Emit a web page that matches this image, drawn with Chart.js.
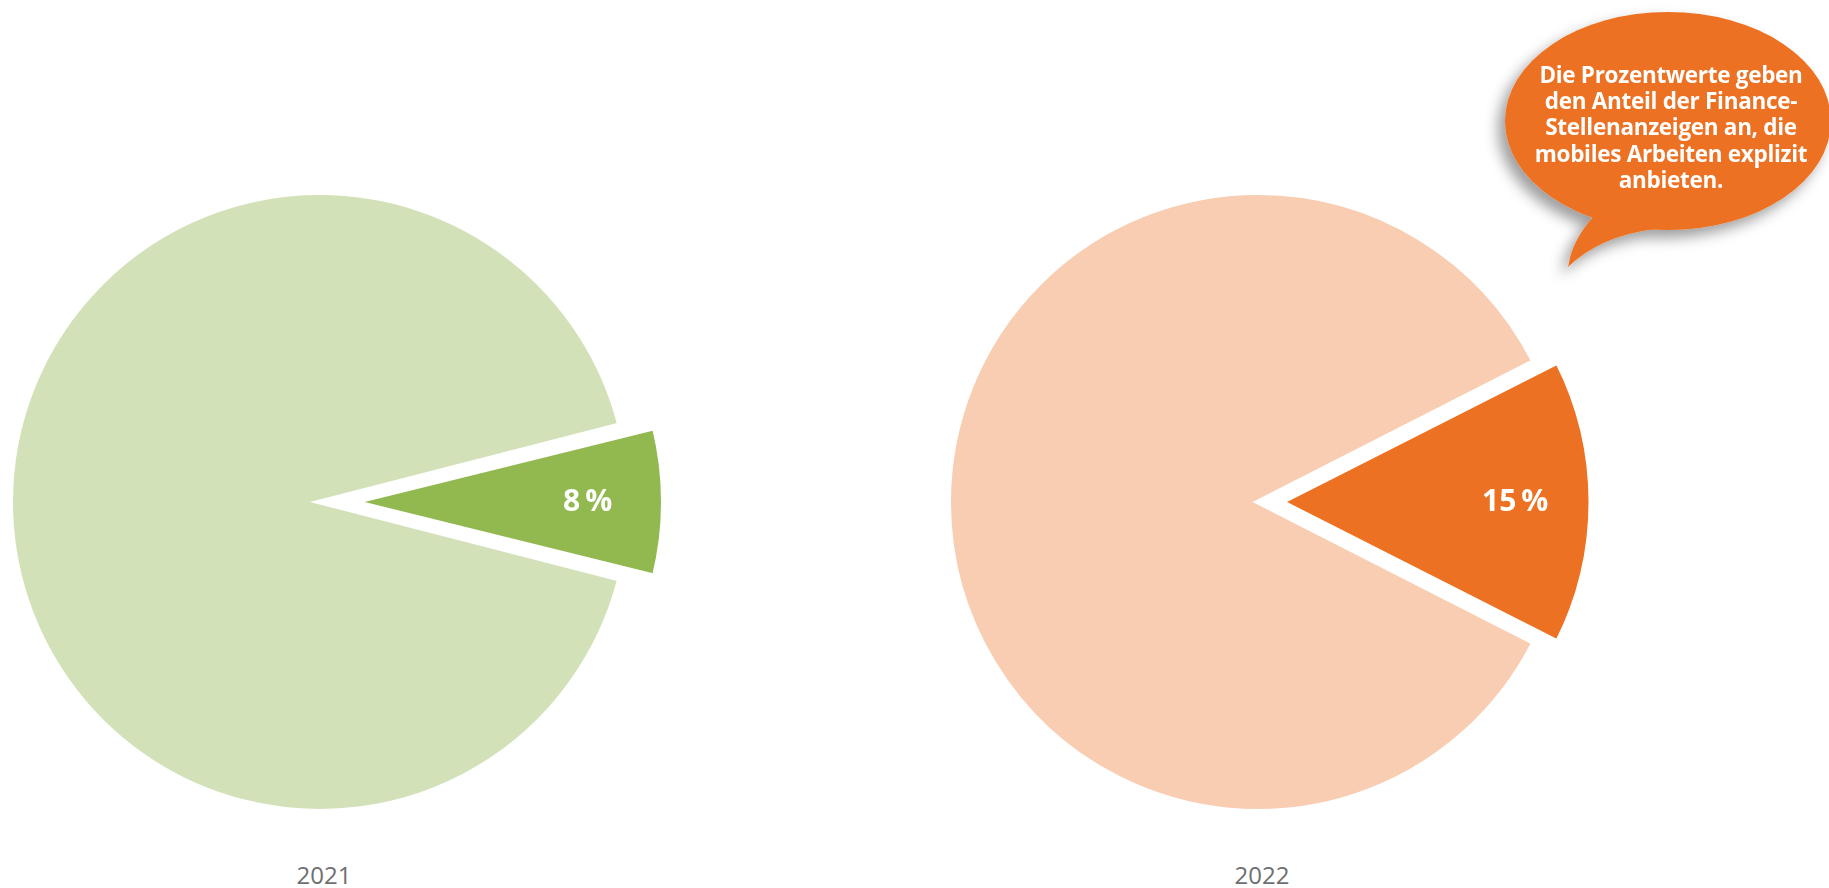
<!DOCTYPE html>
<html lang="de">
<head>
<meta charset="utf-8">
<title>Mobiles Arbeiten in Finance-Stellenanzeigen</title>
<script src="https://cdn.jsdelivr.net/npm/chart.js@4"></script>
<style>
    html, body { margin: 0; padding: 0; background: #fff; overflow: hidden; }
    body { width: 1829px; height: 888px; position: relative; font-family: 'Open Sans', sans-serif; }
    .pie-box { position: absolute; top: 162px; width: 760px; height: 680px; }
    #pie-2021 { left: -60px; }
    #pie-2022 { left: 878px; }
    .year {
        position: absolute; top: 858px; width: 120px; margin-left: -60px;
        text-align: center; font-size: 24px; line-height: 34px; color: #6f6f6f;
    }
    #bubble-shape { position: absolute; left: 0; top: 0; width: 1829px; height: 888px; pointer-events: none; }
    #bubble-text {
        position: absolute; left: 1521px; top: 62px; width: 300px;
        text-align: center; color: #fff; font-weight: 700; font-size: 22.5px;
        line-height: 26.2px; white-space: nowrap; letter-spacing: -0.3px;
    }
</style>
</head>
<body>

<div class="pie-box" id="pie-2021"><canvas id="chart-2021"></canvas></div>
<div class="pie-box" id="pie-2022"><canvas id="chart-2022"></canvas></div>
<div class="year" style="left:324px">2021</div>
<div class="year" style="left:1262px">2022</div>

<svg id="bubble-shape" viewBox="0 0 1829 888">
    <defs>
        <filter id="bubble-shadow" x="-20%" y="-20%" width="140%" height="150%">
            <feDropShadow dx="-7" dy="8" stdDeviation="7" flood-color="#000" flood-opacity="0.38"/>
        </filter>
    </defs>
    <g filter="url(#bubble-shadow)" fill="#ed7122">
        <ellipse cx="1668" cy="121" rx="163" ry="109"/>
        <path d="M1594 216 Q1572 240 1568 267 Q1600 236 1655 229 Z"/>
    </g>
</svg>
<div id="bubble-text">Die Prozentwerte geben<br>den Anteil der Finance-<br>Stellenanzeigen an, die<br>mobiles Arbeiten explizit<br>anbieten.</div>

<script>
// ─── Data ────────────────────────────────────────────────────────────────────

const years       = ['2021', '2022'];
const sliceNames  = ['bietet mobiles Arbeiten an', 'übrige Anzeigen'];
const shareMobile = [8, 15];     // percent of finance job ads
const shareOther  = [92, 85];

// ─── Styles ──────────────────────────────────────────────────────────────────

const strongColors = ['#92b850', '#ed7122'];
const paleColors   = ['#d3e1b9', '#f8cdb2'];
const explode      = [136, 94];  // arc offset of the highlighted slice (moves offset/4 px)
const pieRadius    = 309.5;

// Chart.js grows an exploded slice's radius; keep it at the pie radius instead
const keepRadius = {
    id: 'keepRadius',
    afterDatasetUpdate(chart, args) {
        const arcs  = args.meta.data;
        const small = arcs[0], big = arcs[1];
        if (!small || !big) return;
        const fix = 1 - Math.sin(Math.min(Math.PI, small.circumference));
        small.outerRadius = big.outerRadius - (small.options.offset / 4) * fix;
    },
};

// percentage written inside the exploded slice
const sliceLabel = {
    id: 'sliceLabel',
    afterDatasetsDraw(chart) {
        const arc   = chart.getDatasetMeta(0).data[0];
        const value = chart.data.datasets[0].data[0];
        const mid   = (arc.startAngle + arc.endAngle) / 2;
        const dist  = arc.options.offset / 4 + pieRadius * 0.755;
        const ctx   = chart.ctx;
        ctx.save();
        ctx.font         = 'bold 30px "Open Sans"';
        ctx.fillStyle    = '#fff';
        ctx.textAlign    = 'center';
        ctx.textBaseline = 'middle';
        ctx.fillText(value + '\u2009%', arc.x + Math.cos(mid) * dist, arc.y + Math.sin(mid) * dist);
        ctx.restore();
    },
};

function makePie(i) {
    const half = shareMobile[i] / 100 * 180;   // half the slice angle, degrees
    const ctx  = document.getElementById('chart-' + years[i]).getContext('2d');
    return new Chart(ctx, {
        type: 'pie',
        data: {
            labels: sliceNames,
            datasets: [{
                data: [shareMobile[i], shareOther[i]],
                backgroundColor: [strongColors[i], paleColors[i]],
                borderColor: '#fff',
                borderWidth: 5,
                borderJoinStyle: 'miter',
                offset: [explode[i], 0],
            }],
        },
        options: {
            responsive: true,
            maintainAspectRatio: false,
            animation: false,
            events: [],
            radius: pieRadius,
            rotation: 90 - half,
            layout: { padding: 0 },
            plugins: {
                legend:  { display: false },
                tooltip: { enabled: false },
            },
        },
        plugins: [keepRadius, sliceLabel],
    });
}

years.forEach((y, i) => makePie(i));
</script>
</body>
</html>
